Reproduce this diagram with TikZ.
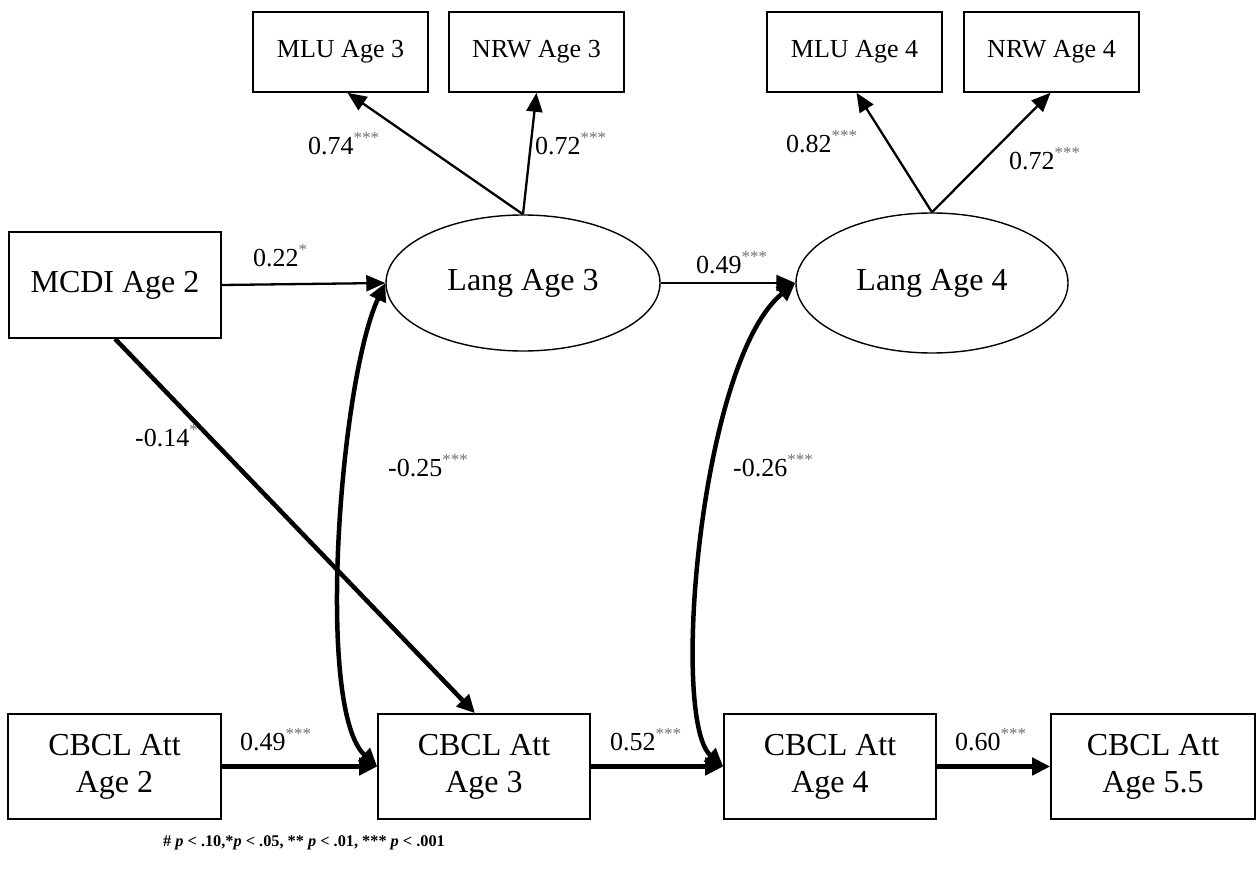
\documentclass[tikz,border=0pt]{standalone}
\usepackage{fontspec}
\setmainfont{Liberation Serif}
\usetikzlibrary{arrows.meta,shapes.geometric}

% coefficient with grey significance stars
\newcommand{\coef}[2]{#1\raisebox{11pt}{\fontsize{17}{17}\selectfont\color{black!55}#2}}

\begin{document}
\begin{tikzpicture}[x=1pt,y=-1pt,
  obsbox/.style={draw, line width=1.6pt, rectangle, inner sep=0pt, align=center,
    font=\fontsize{32}{37}\selectfont},
  indbox/.style={draw, line width=1.6pt, rectangle, inner sep=0pt,
    minimum width=175pt, minimum height=80pt, font=\fontsize{26}{30}\selectfont},
  latent/.style={draw, ellipse, line width=1.4pt, inner sep=0pt,
    minimum width=274pt, minimum height=136pt, font=\fontsize{32}{37}\selectfont},
  loadarr/.style={line width=2.3pt, -{Triangle[length=19pt,width=16pt]}},
  patharr/.style={line width=4.5pt, -{Triangle[length=18pt,width=17pt]}},
  covarr/.style={line width=4.5pt, {Triangle[length=18pt,width=17pt]}-{Triangle[length=18pt,width=17pt]}},
  coefl/.style={anchor=base west, inner sep=0pt, font=\fontsize{26}{30}\selectfont}
]
\fill[white] (0,0) rectangle (1256,869);
\useasboundingbox (0,0) rectangle (1256,869);

% indicators
\node[indbox] (mlu3) at (340.5,52) {MLU Age 3};
\node[indbox] (nrw3) at (536.5,52) {NRW Age 3};
\node[indbox] (mlu4) at (854.5,52) {MLU Age 4};
\node[indbox] (nrw4) at (1051.5,52) {NRW Age 4};

% latent language factors
\node[latent] (lang3) at (523,283) {Lang Age 3};
\node[latent, minimum width=272pt, minimum height=140pt] (lang4) at (932,283) {Lang Age 4};

% observed predictors and outcomes
\node[obsbox, minimum width=212pt, minimum height=106pt] (mcdi) at (115,285) {MCDI Age 2};
\node[obsbox, minimum width=213pt, minimum height=105pt] (cb2) at (114.5,766.5) {CBCL Att\\Age 2};
\node[obsbox, minimum width=212pt, minimum height=105pt] (cb3) at (484,766.5) {CBCL Att\\Age 3};
\node[obsbox, minimum width=212pt, minimum height=105pt] (cb4) at (830,766.5) {CBCL Att\\Age 4};
\node[obsbox, minimum width=204pt, minimum height=105pt] (cb55) at (1153,766.5) {CBCL Att\\Age 5.5};

% factor loadings
\draw[loadarr] (lang3.north) -- ([xshift=7pt]mlu3.south);
\draw[loadarr] (lang3.north) -- (nrw3.south);
\draw[loadarr] (lang4.north) -- ([xshift=2pt]mlu4.south);
\draw[loadarr] (lang4.north) -- ([xshift=-1pt]nrw4.south);

% language paths
\draw[loadarr] (mcdi.east) -- (lang3.west);
\draw[loadarr] (lang3.east) -- (lang4.west);

% attention paths
\draw[patharr] (mcdi.south) -- ([xshift=-9pt]cb3.north);
\draw[patharr] (cb2.east) -- (cb3.west);
\draw[patharr] (cb3.east) -- (cb4.west);
\draw[patharr] (cb4.east) -- (cb55.west);

% residual covariances
\draw[covarr] (lang3.west) .. controls (340,380) and (315,710) .. (cb3.west);
\draw[covarr] (lang4.west) .. controls (700,360) and (670,720) .. (cb4.west);

% coefficients
\node[coefl] (c1) at (308,155) {\coef{0.74}{***}};
\node[coefl] (c2) at (535,155) {\coef{0.72}{***}};
\node[coefl] (c3) at (786,153) {\coef{0.82}{***}};
\node[coefl] (c4) at (1009,170) {\coef{0.72}{***}};
\node[coefl] (c5) at (253,267) {\coef{0.22}{*}};
\node[coefl] (c6) at (696,273) {\coef{0.49}{***}};
\node[coefl] (c7) at (135,446) {\coef{-0.14}{*}};
\node[coefl] (c8) at (388,476) {\coef{-0.25}{***}};
\node[coefl] (c9) at (733,476) {\coef{-0.26}{***}};
\node[coefl] (c10) at (240,750) {\coef{0.49}{***}};
\node[coefl] (c11) at (610,750) {\coef{0.52}{***}};
\node[coefl] (c12) at (955,750) {\coef{0.60}{***}};

% significance legend
\node[anchor=base west, inner sep=0pt, font=\fontsize{16.3}{18}\selectfont\bfseries] (note) at (163,846)
  {\# \textit{p} < .10,*\textit{p} < .05, ** \textit{p} < .01, *** \textit{p} < .001};
\end{tikzpicture}
\end{document}
